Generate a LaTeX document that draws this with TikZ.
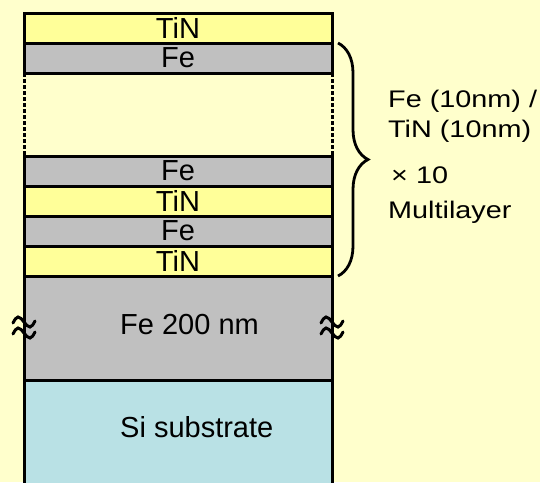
\documentclass[tikz,border=0pt]{standalone}
\usepackage{fontspec}
\setmainfont{Liberation Sans}
\newfontfamily\sidefont[FakeStretch=1.2]{Liberation Sans}
\usepackage{xcolor}
\usepackage{tikz}
\usetikzlibrary{positioning, decorations.pathreplacing}
\definecolor{bgyellow}{RGB}{255,255,204}
\definecolor{tinyellow}{RGB}{255,255,153}
\definecolor{fegray}{RGB}{192,192,192}
\definecolor{sicyan}{RGB}{185,225,229}

\begin{document}
\begin{tikzpicture}[
    x=1pt, y=-1pt,
    layer/.style={rectangle, draw=black, line width=3pt, minimum width=308pt, minimum height=30pt, inner sep=0pt, outer sep=0pt, font=\fontsize{29}{31}\selectfont},
    tinlayer/.style={layer, fill=tinyellow},
    felayer/.style={layer, fill=fegray},
    dashedge/.style={line width=3pt, dash pattern=on 4pt off 2pt},
    squiggle/.style={line width=3pt, line cap=round},
    bracestyle/.style={decorate, decoration={brace, amplitude=30pt}, line width=2.8pt},
    sidetext/.style={anchor=base west, inner sep=0pt, font=\sidefont\fontsize{24}{26}\selectfont}
]
\clip (0,0) rectangle (540,482);
\fill[bgyellow] (0,0) rectangle (540,482);

\node[tinlayer] (tina) at (178,28) {TiN};
\node[felayer, below=0pt of tina] (fea) {Fe};
\node[felayer, below=83pt of fea] (feb) {Fe};
\node[tinlayer, below=0pt of feb] (tinb) {TiN};
\node[felayer, below=0pt of tinb] (fec) {Fe};
\node[tinlayer, below=0pt of fec] (tinc) {TiN};
\node[felayer, minimum height=104pt, below=0pt of tinc] (fethick) {};
\node[layer, fill=sicyan, minimum height=120pt, below=0pt of fethick] (si) {};

\node[anchor=west, inner sep=0pt, font=\fontsize{29}{31}\selectfont] (fethicklbl) at ([xshift=96pt, yshift=3pt]fethick.west) {Fe 200 nm};
\node[anchor=west, inner sep=0pt, font=\fontsize{29}{31}\selectfont] (silbl) at ([xshift=96pt, yshift=-47pt]si.north west) {Si substrate};

% gap in the stack
\draw[dashedge] (fea.south west) -- (feb.north west);
\draw[dashedge] (fea.south east) -- (feb.north east);

% break marks on the thick Fe layer
\draw[squiggle] ([xshift=-11pt, yshift=5pt]fethick.west) sin ++(5,-6) cos ++(6,5) sin ++(6,5) cos ++(5,-6);
\draw[squiggle] ([xshift=-11pt, yshift=-6pt]fethick.west) sin ++(5,-6) cos ++(6,5) sin ++(6,5) cos ++(5,-6);
\draw[squiggle] ([xshift=-11pt, yshift=5pt]fethick.east) sin ++(5,-6) cos ++(6,5) sin ++(6,5) cos ++(5,-6);
\draw[squiggle] ([xshift=-11pt, yshift=-6pt]fethick.east) sin ++(5,-6) cos ++(6,5) sin ++(6,5) cos ++(5,-6);

% multilayer brace
\coordinate (brtop) at ([xshift=6pt]fea.north east);
\coordinate (brbot) at ([xshift=6pt]tinc.south east);
\draw[bracestyle] (brtop) -- (brbot);

\node[sidetext] (period) at (388,107) {Fe (10nm) /};
\node[sidetext] (periodb) at (388,137) {TiN (10nm)};
\node[sidetext] (repeat) at (391,183) {× 10};
\node[sidetext] (multi) at (388,218) {Multilayer};
\end{tikzpicture}
\end{document}
